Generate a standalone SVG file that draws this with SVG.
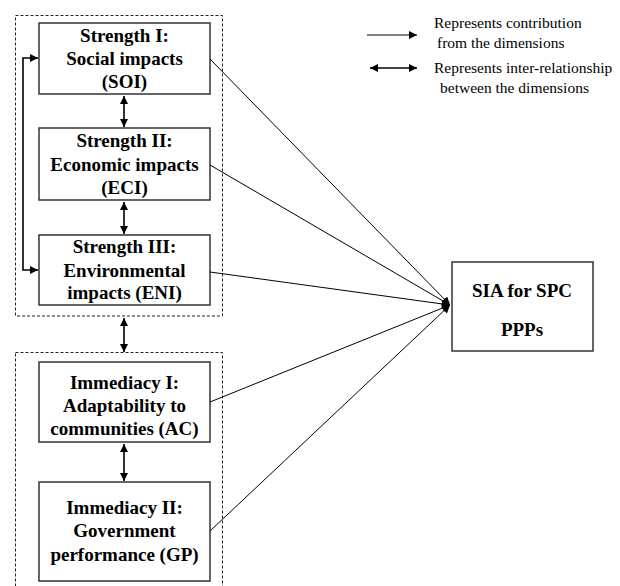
<svg xmlns="http://www.w3.org/2000/svg" width="620" height="586" viewBox="0 0 620 586">
<defs>
<style>
.box{fill:#fff;stroke:#333;stroke-width:1.5}
.grp{fill:none;stroke:#222;stroke-width:1;stroke-dasharray:3,2}
.t{font-family:"Liberation Serif","Times New Roman",serif;font-weight:bold;font-size:19px;fill:#000;text-anchor:middle}
.lg{font-family:"Liberation Serif","Times New Roman",serif;font-size:15.5px;fill:#000}
.ln{fill:none;stroke:#000;stroke-width:1}
.dl{fill:none;stroke:#000;stroke-width:1.6}
</style>
<marker id="ah" viewBox="0 0 10 10" refX="10" refY="5" markerWidth="10" markerHeight="8" markerUnits="userSpaceOnUse" orient="auto-start-reverse">
<path d="M0,0 L10,5 L0,10 z" fill="#000"/>
</marker>
<marker id="ah2" viewBox="0 0 10 10" refX="10" refY="5" markerWidth="9" markerHeight="8" markerUnits="userSpaceOnUse" orient="auto-start-reverse">
<path d="M0,0 L10,5 L0,10 z" fill="#000"/>
</marker>
</defs>
<rect width="620" height="586" fill="#fff"/>
<g id="group-strength"><rect class="grp" x="15.5" y="15.5" width="207" height="300.5"/></g>
<g id="group-immediacy"><rect class="grp" x="15.5" y="352.5" width="207" height="260"/></g>
<g id="soi"><rect class="box" x="39" y="23" width="171" height="71"/>
<text class="t" x="124.5" y="42">Strength I:</text><text class="t" x="124.5" y="65">Social impacts</text><text class="t" x="124.5" y="88">(SOI)</text></g>
<g id="eci"><rect class="box" x="39" y="128" width="171" height="72"/>
<text class="t" x="124.5" y="147">Strength II:</text><text class="t" x="124.5" y="171">Economic impacts</text><text class="t" x="124.5" y="194">(ECI)</text></g>
<g id="eni"><rect class="box" x="39" y="235" width="171" height="70"/>
<text class="t" x="124.5" y="253">Strength III:</text><text class="t" x="124.5" y="277">Environmental</text><text class="t" x="124.5" y="299">impacts (ENI)</text></g>
<g id="ac"><rect class="box" x="39" y="362" width="171" height="80"/>
<text class="t" x="124.5" y="389">Immediacy I:</text><text class="t" x="124.5" y="412">Adaptability to</text><text class="t" x="124.5" y="435">communities (AC)</text></g>
<g id="gp"><rect class="box" x="39" y="482" width="171" height="99"/>
<text class="t" x="124.5" y="514">Immediacy II:</text><text class="t" x="124.5" y="537">Government</text><text class="t" x="124.5" y="561">performance (GP)</text></g>
<g id="sia"><rect class="box" x="452" y="262" width="141" height="89"/>
<text class="t" x="522" y="297">SIA for SPC</text><text class="t" x="522" y="336">PPPs</text></g>
<g id="legend">
<line class="ln" x1="367" y1="35" x2="417" y2="35" marker-end="url(#ah)"/>
<line class="dl" x1="370" y1="68" x2="417" y2="68" marker-start="url(#ah2)" marker-end="url(#ah2)"/>
<text class="lg" x="434" y="28">Represents contribution</text>
<text class="lg" x="437" y="48">from the dimensions</text>
<text class="lg" x="434" y="73">Represents inter-relationship</text>
<text class="lg" x="440" y="93">between the dimensions</text>
</g>
<g id="connectors">
<line class="ln" x1="210" y1="59" x2="450" y2="305" marker-end="url(#ah)"/>
<line class="ln" x1="210" y1="165" x2="450" y2="305" marker-end="url(#ah)"/>
<line class="ln" x1="210" y1="272" x2="450" y2="305" marker-end="url(#ah)"/>
<line class="ln" x1="210" y1="402" x2="450" y2="305" marker-end="url(#ah)"/>
<line class="ln" x1="210" y1="531" x2="450" y2="305" marker-end="url(#ah)"/>
<line class="dl" x1="124" y1="96" x2="124" y2="127" marker-start="url(#ah2)" marker-end="url(#ah2)"/>
<line class="dl" x1="124" y1="202" x2="124" y2="234" marker-start="url(#ah2)" marker-end="url(#ah2)"/>
<line class="dl" x1="124" y1="318" x2="124" y2="352" marker-start="url(#ah2)" marker-end="url(#ah2)"/>
<line class="dl" x1="124" y1="444" x2="124" y2="481" marker-start="url(#ah2)" marker-end="url(#ah2)"/>
<path class="dl" d="M38,58 H23 V270 H38" marker-start="url(#ah2)" marker-end="url(#ah2)"/>
</g>
</svg>
